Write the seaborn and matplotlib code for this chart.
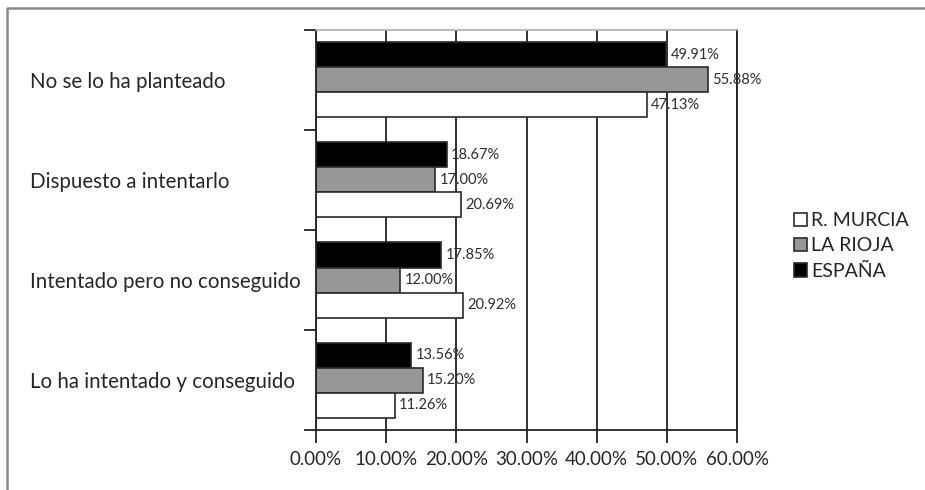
#!/usr/bin/env python3
"""Horizontal grouped bars: intention to quit, R. Murcia vs La Rioja vs Espana."""

import matplotlib

matplotlib.use("Agg")
import matplotlib.pyplot as plt
import numpy as np
import pandas as pd
import seaborn as sns
from matplotlib.lines import Line2D
from matplotlib.ticker import FuncFormatter

CATEGORIES = [
    "No se lo ha planteado",
    "Dispuesto a intentarlo",
    "Intentado pero no conseguido",
    "Lo ha intentado y conseguido",
]
ESPANA = [49.91, 18.67, 17.85, 13.56]
LA_RIOJA = [55.88, 17.00, 12.00, 15.20]
R_MURCIA = [47.13, 20.69, 20.92, 11.26]
REGIONS = ["ESPAÑA", "LA RIOJA", "R. MURCIA"]
X_TICKS = [0, 10, 20, 30, 40, 50, 60]

W, H, DPI = 925, 490, 100

df = pd.DataFrame(
    {
        "categoria": CATEGORIES * 3,
        "region": np.repeat(REGIONS, len(CATEGORIES)),
        "valor": ESPANA + LA_RIOJA + R_MURCIA,
    }
)

sns.set_theme(style="white")
plt.rcParams["font.family"] = ["Lato", "DejaVu Sans"]

fig = plt.figure(figsize=(W / DPI, H / DPI), dpi=DPI)
ax = fig.add_axes([316 / W, 1 - 430 / H, (737 - 316) / W, 400 / H])

sns.barplot(
    data=df,
    y="categoria",
    x="valor",
    hue="region",
    order=CATEGORIES,
    hue_order=REGIONS,
    palette=["black", "#979797", "white"],
    edgecolor="#2a2a2a",
    linewidth=1.2,
    width=0.75,
    orient="h",
    errorbar=None,
    ax=ax,
)

for cont in ax.containers:
    ax.bar_label(
        cont,
        labels=[f"{b.get_width():.2f}%" for b in cont],
        padding=3,
        fontsize=10.5,
        color="#2e2e2e",
    )

ax.set_xlim(0, 60)
ax.set_ylim(len(CATEGORIES) - 0.5, -0.5)
ax.set_xticks(X_TICKS)
ax.xaxis.set_major_formatter(FuncFormatter(lambda v, _: f"{v:.2f}%"))
ax.set_yticks(np.arange(-0.5, len(CATEGORIES)), minor=True)
# category labels are left-aligned near the figure's left edge (x ~ 30px)
ax.tick_params(axis="y", which="major", length=0, pad=(316 - 30) * 72 / DPI, labelsize=14.8)
for lbl in ax.get_yticklabels():
    lbl.set_horizontalalignment("left")
ax.tick_params(axis="y", which="minor", left=True, length=9, width=1.3, color="#222222", direction="out")
ax.tick_params(axis="x", bottom=True, length=9, width=1.3, color="#222222", direction="out", pad=6, labelsize=13.5)
ax.set_xlabel("")
ax.set_ylabel("")

ax.set_axisbelow(True)
ax.grid(axis="x", color="#222222", linewidth=1.3)
ax.grid(axis="y", visible=False)

for side in ["left", "bottom", "right"]:
    ax.spines[side].set_color("#222222")
    ax.spines[side].set_linewidth(1.3)
ax.spines["top"].set_color("#b0b0b0")
ax.spines["top"].set_linewidth(1.2)

handles, labels = ax.get_legend_handles_labels()
ax.legend(
    handles[::-1],
    labels[::-1],
    loc="center left",
    bbox_to_anchor=(786 / W, 1 - 246 / H),
    bbox_transform=fig.transFigure,
    frameon=False,
    fontsize=14,
    handlelength=0.7,
    handleheight=0.7,
    handletextpad=0.2,
    labelspacing=0.42,
    borderaxespad=0,
)

# outer frame (left and top edges only visible in the source)
fig.add_artist(Line2D([7 / W, 7 / W, 1], [0, 1 - 8 / H, 1 - 8 / H], color="#8a8a8a", linewidth=1.8))

fig.savefig("out.png", dpi=DPI)
